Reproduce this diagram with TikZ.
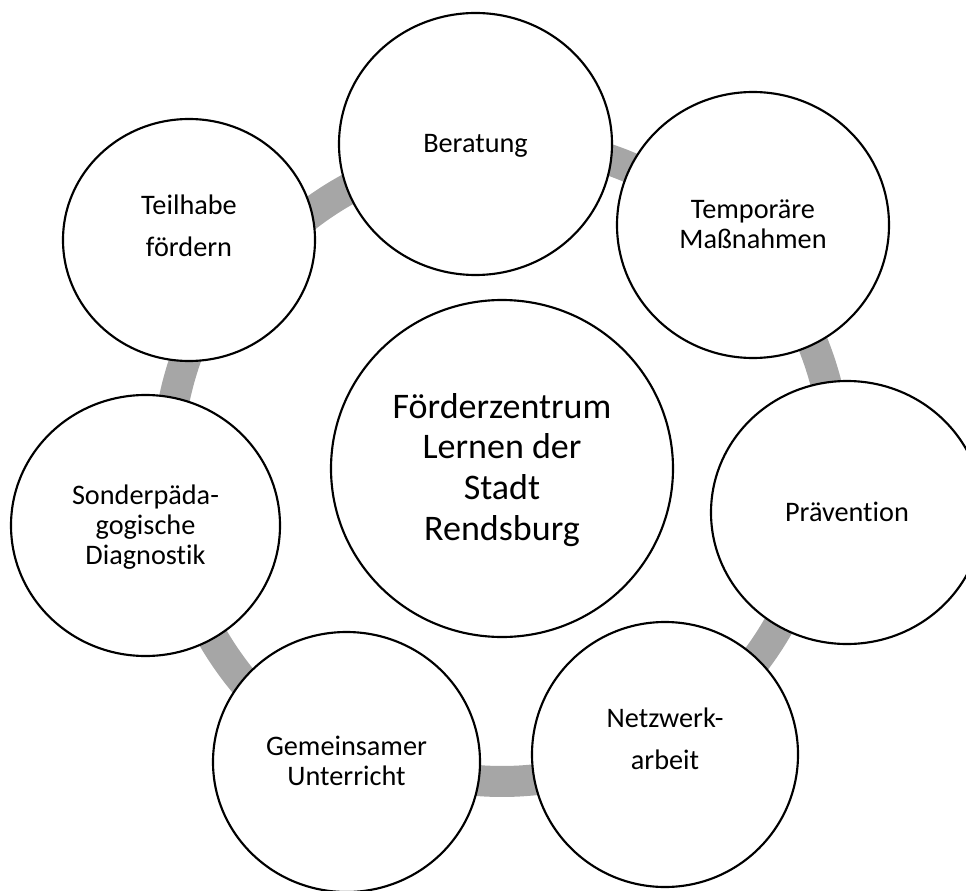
\documentclass[tikz,border=0pt]{standalone}
\usepackage{fontspec}
\setmainfont{Carlito}[Ligatures=NoCommon]
\usetikzlibrary{shapes.geometric}
\definecolor{ringgray}{RGB}{166,166,166}
\begin{document}
\begin{tikzpicture}[x=0.75pt,y=0.75pt,
  bubble/.style={ellipse, draw=black, line width=1.6pt, fill=white, inner sep=0pt, outer sep=0pt,
    align=center, text height=13.1pt, text depth=0pt, font=\fontsize{21.2pt}{22.5pt}\selectfont},
  ring/.style={draw=ringgray, line width=23.25pt}]
\useasboundingbox (0,0) rectangle (966,-891);
\clip (0,0) rectangle (966,-891);
\coordinate (rc) at (502,-468.5);
% ring segments between neighbouring circles
\draw[ring] ([shift={(111.6:319)}]rc) arc[start angle=111.6, end angle=133.6, radius=319];
\draw[ring] ([shift={(57.7:327)}]rc) arc[start angle=57.7, end angle=79.7, radius=327];
\draw[ring] ([shift={(7.4:335)}]rc) arc[start angle=7.4, end angle=29.4, radius=335];
\draw[ring] ([shift={(-44.2:318)}]rc) arc[start angle=-44.2, end angle=-22.2, radius=318];
\draw[ring] ([shift={(-100.3:313)}]rc) arc[start angle=-100.3, end angle=-78.3, radius=313];
\draw[ring] ([shift={(203.6:335)}]rc) arc[start angle=203.6, end angle=225.6, radius=335];
\draw[ring] ([shift={(153.1:335)}]rc) arc[start angle=153.1, end angle=175.1, radius=335];
% circles
\node[bubble, minimum width=204.75pt, minimum height=196.5pt] (ber) at (475.5,-144) {Beratung};
\node[bubble, minimum width=204pt, minimum height=199.5pt, text height=35.6pt] (tem) at (753,-225) {Temporäre\\Maßnahmen};
\node[bubble, minimum width=204pt, minimum height=197.25pt] (prae) at (847,-512.5) {Prävention};
\node[bubble, minimum width=199.5pt, minimum height=198.75pt, font=\fontsize{21.2pt}{31.25pt}\selectfont, text height=44.35pt, text depth=21.75pt] (netz) at (665,-754.5) {Netzwerk-\\arbeit};
\node[bubble, minimum width=200.25pt, minimum height=195pt, text height=35.6pt] (gem) at (346.5,-762) {Gemeinsamer\\Unterricht};
\node[bubble, minimum width=201.75pt, minimum height=195.75pt, text height=58.1pt] (son) at (145.5,-525.5) {Sonderpäda-\\gogische\\Diagnostik};
\node[bubble, minimum width=189pt, minimum height=181.5pt, font=\fontsize{21.2pt}{31.25pt}\selectfont, text height=44.35pt, text depth=20pt] (teil) at (189,-240) {Teilhabe\\fördern};
\node[bubble, minimum width=256.5pt, minimum height=252.75pt, font=\fontsize{27pt}{30.6pt}\selectfont, text height=108.1pt] (fz) at (502,-468.5) {Förderzentrum\\Lernen der\\Stadt\\Rendsburg};
\end{tikzpicture}
\end{document}
